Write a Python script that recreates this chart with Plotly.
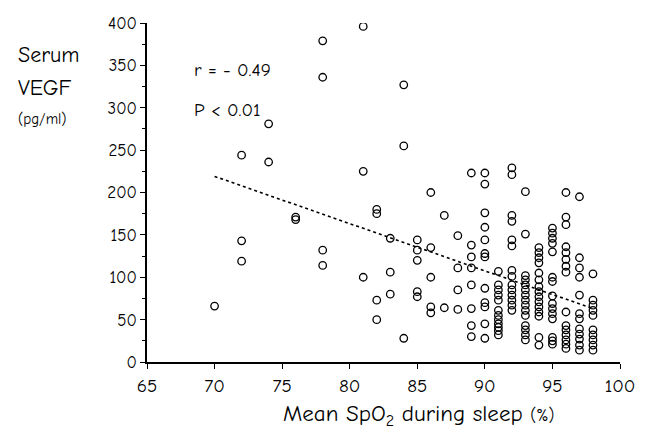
import plotly.graph_objects as go

# Data (x = mean SpO2 %, y = serum VEGF pg/ml)
spo2_levels = [70, 72, 74, 76, 78, 81, 82, 83, 84, 85, 86, 87, 88, 89, 90, 91, 92, 93, 94, 95, 96, 97, 98]
vegf_70 = [66]
vegf_72 = [244, 143, 119]
vegf_74 = [281, 236]
vegf_76 = [171, 168]
vegf_78 = [379, 336, 132, 114]
vegf_81 = [396, 225, 100]
vegf_82 = [180, 175, 73, 50]
vegf_83 = [146, 106, 80]
vegf_84 = [327, 255, 28]
vegf_85 = [144, 132, 120, 83, 77]
vegf_86 = [200, 135, 100, 65, 58]
vegf_87 = [173, 64]
vegf_88 = [149, 111, 85, 62]
vegf_89 = [223, 138, 124, 111, 91, 63, 43, 30]
vegf_90 = [223, 210, 176, 159, 144, 128, 124, 87, 70, 65, 45, 28]
vegf_91 = [107, 91, 85, 79, 73, 61, 55, 50, 45, 41, 37, 32]
vegf_92 = [229, 221, 173, 166, 144, 137, 108, 101, 91, 85, 79, 73, 67, 61]
vegf_93 = [201, 151, 102, 97, 91, 85, 79, 73, 67, 61, 55, 43, 38, 32, 26]
vegf_94 = [135, 129, 123, 117, 105, 97, 89, 83, 77, 71, 65, 59, 54, 29, 20]
vegf_95 = [158, 152, 146, 140, 130, 100, 95, 78, 69, 63, 57, 51, 29, 25, 21]
vegf_96 = [200, 171, 162, 136, 129, 121, 113, 106, 59, 43, 38, 32, 26, 21, 16]
vegf_97 = [195, 123, 111, 100, 79, 57, 51, 39, 33, 27, 20, 14]
vegf_98 = [104, 73, 67, 61, 55, 38, 32, 26, 20, 14]

vegf_columns = [vegf_70, vegf_72, vegf_74, vegf_76, vegf_78, vegf_81, vegf_82, vegf_83,
                vegf_84, vegf_85, vegf_86, vegf_87, vegf_88, vegf_89, vegf_90, vegf_91,
                vegf_92, vegf_93, vegf_94, vegf_95, vegf_96, vegf_97, vegf_98]

# Regression line end points
trend_x = [70, 98]
trend_y = [219, 63]

x_ticks = [65, 70, 75, 80, 85, 90, 95, 100]
y_ticks = [0, 50, 100, 150, 200, 250, 300, 350, 400]

xs, ys = [], []
for lvl, col in zip(spo2_levels, vegf_columns):
    for v in col:
        xs.append(lvl)
        ys.append(v)

FONT = "Comic Sans MS, Comic Neue, Noto Sans, sans-serif"

# plot area in pixels
L, R, T, B = 147, 27, 23, 70
W, H = 647, 432
PW, PH = W - L - R, H - T - B


def py(pix):
    return (PH - (pix - T)) / PH


fig = go.Figure()
fig.add_trace(go.Scatter(
    x=trend_x, y=trend_y, mode="lines",
    line=dict(color="black", width=1.6, dash="dot"),
    hoverinfo="skip", showlegend=False))
fig.add_trace(go.Scatter(
    x=xs, y=ys, mode="markers",
    marker=dict(symbol="circle-open", size=7.5, color="black", line=dict(width=1.3, color="black")),
    showlegend=False))

fig.update_layout(
    width=W, height=H,
    margin=dict(l=L, r=R, t=T, b=B),
    plot_bgcolor="white", paper_bgcolor="white",
    font=dict(family=FONT, color="black", size=15),
    xaxis=dict(range=[65, 100], tickvals=x_ticks, ticktext=[str(t) for t in x_ticks],
               showgrid=False, zeroline=False, showline=True, linecolor="black", linewidth=1.5,
               ticks="outside", ticklen=5, tickwidth=1.2, tickcolor="black",
               tickfont=dict(size=19, family=FONT)),
    yaxis=dict(range=[0, 400], tickvals=y_ticks, ticktext=[str(t) for t in y_ticks],
               showgrid=False, zeroline=False, showline=True, linecolor="black", linewidth=1.5,
               ticks="outside", ticklen=5, tickwidth=1.2, tickcolor="black",
               tickfont=dict(size=17, family=FONT),
               minor=dict(ticks="outside", ticklen=3, tickcolor="black", dtick=25)),
)

# Y-axis title (stacked, top-left)
fig.add_annotation(text="Serum", xref="paper", yref="paper", x=-L / PW, y=py(55),
                   xanchor="left", yanchor="middle", showarrow=False,
                   xshift=16, font=dict(size=22, family=FONT))
fig.add_annotation(text="VEGF", xref="paper", yref="paper", x=-L / PW, y=py(88),
                   xanchor="left", yanchor="middle", showarrow=False,
                   xshift=16, font=dict(size=22, family=FONT))
fig.add_annotation(text="(pg/ml)", xref="paper", yref="paper", x=-L / PW, y=py(119),
                   xanchor="left", yanchor="middle", showarrow=False,
                   xshift=16, font=dict(size=15, family=FONT))

# Statistics text
fig.add_annotation(text="r = - 0.49", x=68.3, y=344, xanchor="left", yanchor="middle",
                   showarrow=False, font=dict(size=19, family=FONT))
fig.add_annotation(text="P < 0.01", x=68.3, y=297, xanchor="left", yanchor="middle",
                   showarrow=False, font=dict(size=19, family=FONT))

# X-axis title
fig.add_annotation(text="Mean SpO<sub>2</sub> during sleep <span style='font-size:17px'>(%)</span>",
                   xref="paper", yref="paper", x=(418 - L) / PW, y=0, yshift=-53,
                   xanchor="center", yanchor="middle", showarrow=False,
                   font=dict(size=23, family=FONT))

fig.write_html("out.html", config={"displayModeBar": False},
               post_script="document.body.style.margin='0';")
